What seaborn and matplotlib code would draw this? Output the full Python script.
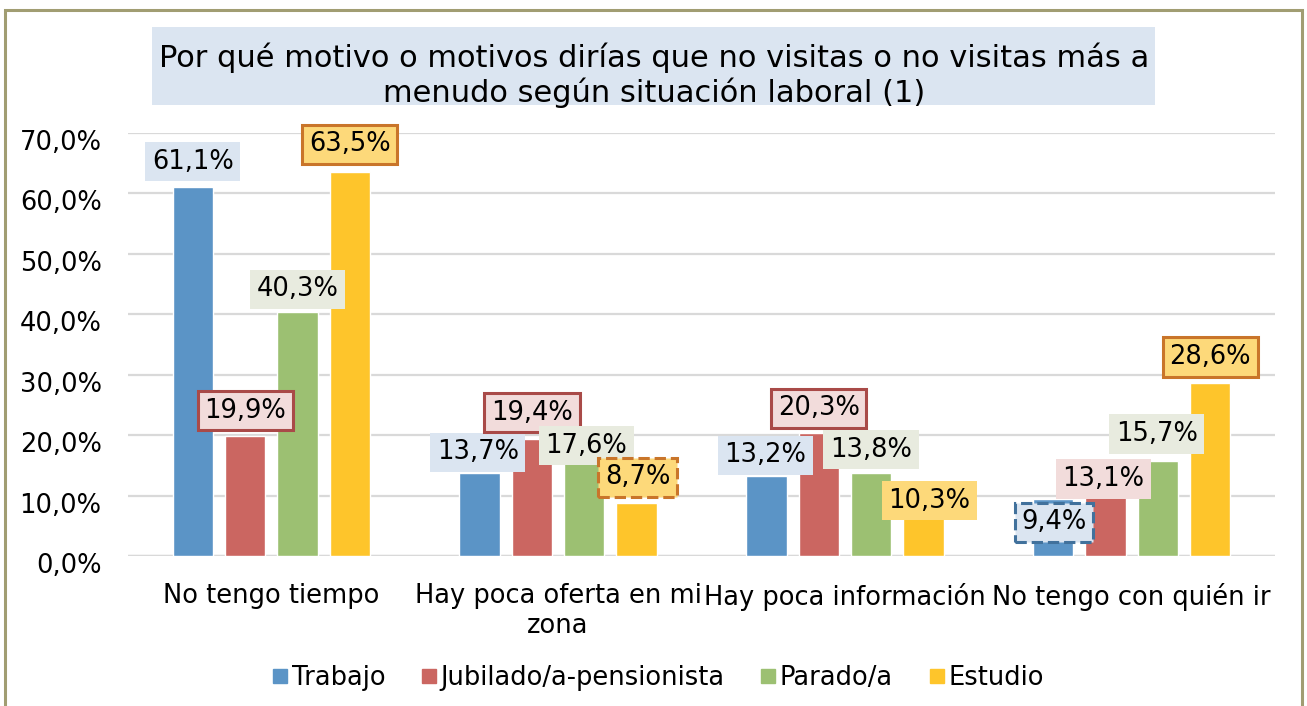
import numpy as np
import pandas as pd
import seaborn as sns
import matplotlib
matplotlib.use("Agg")
import matplotlib.pyplot as plt
from matplotlib.patches import Rectangle
from matplotlib.lines import Line2D
from matplotlib.transforms import ScaledTranslation

# ---- data -------------------------------------------------------------
categories = ["No tengo tiempo", "Hay poca oferta en mi\nzona",
              "Hay poca información", "No tengo con quién ir"]
series = ["Trabajo", "Jubilado/a-pensionista", "Parado/a", "Estudio"]
trabajo = [61.1, 13.7, 13.2, 9.4]
jubilado = [19.9, 19.4, 20.3, 13.1]
parado = [40.3, 17.6, 13.8, 15.7]
estudio = [63.5, 8.7, 10.3, 28.6]
yticks = [0, 10, 20, 30, 40, 50, 60, 70]
ytick_labels = ["0,0%", "10,0%", "20,0%", "30,0%", "40,0%", "50,0%", "60,0%", "70,0%"]
title = ("Por qué motivo o motivos dirías que no visitas o no visitas más a\n"
         "menudo según situación laboral (1)")

values = [trabajo, jubilado, parado, estudio]
df = pd.DataFrame({
    "motivo": [c for _ in series for c in categories],
    "situacion": [s for s in series for _ in categories],
    "pct": [v for vals in values for v in vals],
})

# ---- styling ----------------------------------------------------------
bar_colors = ["#5b94c6", "#cb6661", "#9cc072", "#fec52b"]
label_bg = ["#dbe5f1", "#f2dcdb", "#e8ebdf", "#fdd97a"]
border_col = ["#41719c", "#a94a48", "#7f9a56", "#c9752a"]
# per-label border: None, "solid" or "dashed" (series x category)
borders = [
    [None, None, None, "dashed"],
    ["solid", "solid", "solid", None],
    [None, None, None, None],
    ["solid", "dashed", None, "solid"],
]
# label offsets from the bar top, in pixels (dx right, dy up)
label_dy = [
    [25, 21, 21, -23],
    [25, 26, 25, -2],
    [23, 4, 23, 27],
    [28, 26, -7, 26],
]
label_dx = [
    [0, -2, -1, 1],
    [0, 0, 0, -2],
    [0, 2, 0, -1],
    [0, 1, 6, 0],
]

sns.set_theme(style="white")
plt.rcParams["font.family"] = ["DejaVu Sans"]
plt.rcParams["text.color"] = "black"
plt.rcParams["xtick.color"] = "black"
plt.rcParams["ytick.color"] = "black"
FS = 18.5

W, H = 1307, 706
fig = plt.figure(figsize=(W / 100, H / 100), dpi=100)

# outer chart frame
fig.patches.append(Rectangle((5 / W, -0.02), (1302 - 5) / W, 1 - 10 / H + 0.02,
                             transform=fig.transFigure, fill=False,
                             edgecolor="#a19d72", linewidth=2.2, zorder=0))

ax_left, ax_right = 128 / W, 1275 / W
ax_bottom, ax_top = 1 - 556 / H, 1 - 133 / H
ax = fig.add_axes([ax_left, ax_bottom, ax_right - ax_left, ax_top - ax_bottom])

sns.barplot(data=df, x="motivo", y="pct", hue="situacion", order=categories,
            hue_order=series, palette=bar_colors, saturation=1, width=0.73,
            gap=0.23, legend=False, ax=ax, zorder=3)

ax.set_xlim(-0.5, len(categories) - 0.5)
ax.set_ylim(0, 70)
ax.set_yticks(yticks)
ax.set_yticklabels(ytick_labels, fontsize=FS)
ax.set_xlabel("")
ax.set_ylabel("")
ax.tick_params(axis="y", length=0, pad=19, colors="black")
ax.tick_params(axis="x", length=0, pad=19.5, labelsize=FS, colors="black")
for lab in ax.get_yticklabels():
    lab.set_transform(lab.get_transform() + ScaledTranslation(0, -0.07, fig.dpi_scale_trans))
for sp in ax.spines.values():
    sp.set_visible(False)
ax.yaxis.grid(True, color="#d9d9d9", linewidth=1.6, zorder=0)
ax.set_axisbelow(True)
ax.axhline(0, color="#d9d9d9", linewidth=2.4, zorder=2)

# value labels
for i, cont in enumerate(ax.containers):
    for j, bar in enumerate(cont):
        h = bar.get_height()
        xc = bar.get_x() + bar.get_width() / 2
        style = borders[i][j]
        bbox = dict(boxstyle="square,pad=0.26", facecolor=label_bg[i],
                    edgecolor=border_col[i] if style else "none",
                    linewidth=2.2 if style else 0,
                    linestyle="--" if style == "dashed" else "-")
        ax.annotate(f"{h:.1f}%".replace(".", ","), xy=(xc, h),
                    xytext=(label_dx[i][j] * 0.72, label_dy[i][j] * 0.72),
                    textcoords="offset points", ha="center", va="center",
                    fontsize=FS, color="black", bbox=bbox, zorder=5,
                    annotation_clip=False)

# title in a shaded box
fig.patches.append(Rectangle((152 / W, 1 - 105 / H), (1155 - 152) / W, (105 - 27) / H,
                             transform=fig.transFigure, facecolor="#dbe5f1",
                             edgecolor="none", zorder=1))
fig.text(654 / W, 1 - 75 / H, title, ha="center", va="center", fontsize=22,
         linespacing=1.2, color="black", zorder=2)

# legend
handles = [Line2D([0], [0], marker="s", linestyle="none", markersize=10,
                  markerfacecolor=c, markeredgecolor=c) for c in bar_colors]
fig.legend(handles, series, loc="center", bbox_to_anchor=(658 / W, 1 - 678 / H),
           ncol=4, frameon=False, fontsize=FS, handlelength=0.6,
           handletextpad=0.15, columnspacing=1.4)

fig.savefig("out.png", dpi=100)
